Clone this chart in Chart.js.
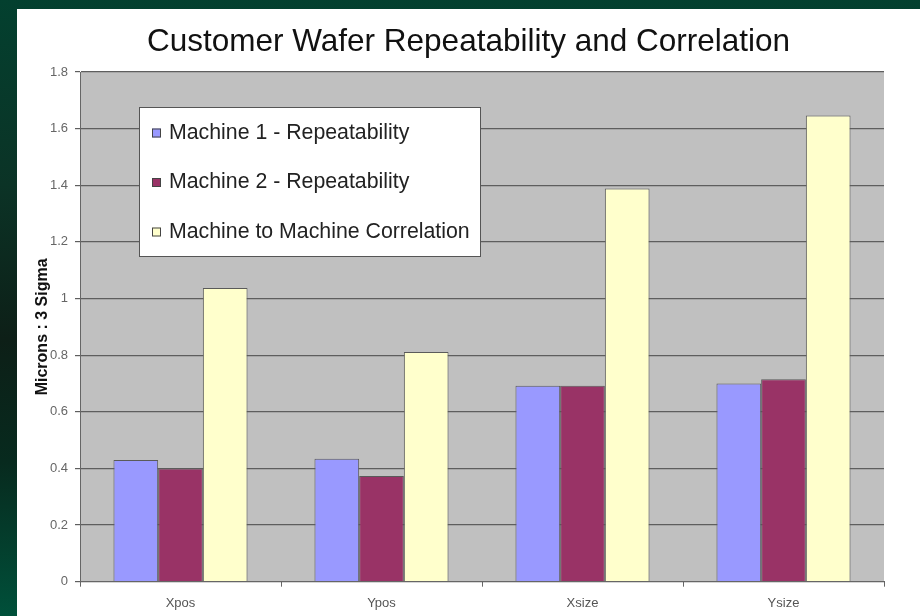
<!DOCTYPE html>
<html>
<head>
<meta charset="utf-8">
<script src="https://cdn.jsdelivr.net/npm/chart.js@4/dist/chart.umd.min.js"></script>
<style>
  html, body { margin: 0; padding: 0; }
  body {
    width: 920px; height: 616px; overflow: hidden; position: relative;
    background: linear-gradient(180deg, #03402f 0%, #0b3326 30%, #0d1f17 55%, #072a1e 75%, #00503a 100%);
  }
  #panel { position: absolute; left: 17px; top: 9px; width: 903px; height: 607px; background: #ffffff; }
  #chart { display: block; }
</style>
</head>
<body>
<div id="panel"><canvas id="chart" width="903" height="607"></canvas></div>
<script>
// Measurement categories and the three series, in microns (3 sigma)
const categories = ['Xpos', 'Ypos', 'Xsize', 'Ysize'];
const machine1Repeatability = [0.43, 0.434, 0.692, 0.70];
const machine2Repeatability = [0.40, 0.373, 0.692, 0.715];
const machineCorrelation = [1.037, 0.811, 1.389, 1.646];
const seriesNames = ['Machine 1 - Repeatability', 'Machine 2 - Repeatability', 'Machine to Machine Correlation'];
const yTickValues = [0, 0.2, 0.4, 0.6, 0.8, 1, 1.2, 1.4, 1.6, 1.8];
const yTickLabels = ['0', '0.2', '0.4', '0.6', '0.8', '1', '1.2', '1.4', '1.6', '1.8'];
const chartTitle = 'Customer Wafer Repeatability and Correlation';

const FONT = 'Arial, "Liberation Sans", sans-serif';

// White panel plus grey plot background, drawn before the grid and bars
const plotBackground = {
  id: 'plotBackground',
  beforeDraw(chart) {
    const { ctx, chartArea: a } = chart;
    ctx.save();
    ctx.fillStyle = '#ffffff';
    ctx.fillRect(0, 0, chart.width, chart.height);
    ctx.fillStyle = '#c0c0c0';
    ctx.fillRect(a.left, a.top, a.right - a.left, a.bottom - a.top);
    ctx.restore();
  }
};

// Title centred over the whole panel
const panelTitle = {
  id: 'panelTitle',
  afterDraw(chart) {
    const { ctx } = chart;
    ctx.save();
    ctx.font = '31.5px ' + FONT;
    ctx.fillStyle = '#111111';
    ctx.textAlign = 'center';
    ctx.textBaseline = 'middle';
    ctx.fillText(chartTitle, chart.width / 2, 33);
    ctx.restore();
  }
};

// Boxed legend sitting inside the plot area, upper left
const boxedLegend = {
  id: 'boxedLegend',
  afterDraw(chart) {
    const { ctx, chartArea: a } = chart;
    const x = a.left + 59, y = a.top + 35, w = 342, h = 150;
    ctx.save();
    ctx.fillStyle = '#ffffff';
    ctx.fillRect(x, y, w, h);
    ctx.strokeStyle = '#555555';
    ctx.lineWidth = 1;
    ctx.strokeRect(x + 0.5, y + 0.5, w - 1, h - 1);
    ctx.font = '21.3px ' + FONT;
    ctx.textBaseline = 'middle';
    chart.data.datasets.forEach((ds, i) => {
      const cy = y + 26 + i * 49.5;
      ctx.fillStyle = ds.backgroundColor;
      ctx.fillRect(x + 13, cy - 4.5, 9, 9);
      ctx.strokeStyle = '#444444';
      ctx.strokeRect(x + 13.5, cy - 4, 8, 8);
      ctx.fillStyle = '#222222';
      ctx.fillText(ds.label, x + 30, cy);
    });
    ctx.restore();
  }
};

const barBorder = '#5a5a5a';

new Chart(document.getElementById('chart'), {
  type: 'bar',
  data: {
    labels: categories,
    datasets: [
      { label: seriesNames[0], data: machine1Repeatability, backgroundColor: '#9999ff', borderColor: barBorder, borderWidth: 1 },
      { label: seriesNames[1], data: machine2Repeatability, backgroundColor: '#993366', borderColor: barBorder, borderWidth: 1 },
      { label: seriesNames[2], data: machineCorrelation, backgroundColor: '#ffffcc', borderColor: barBorder, borderWidth: 1 }
    ]
  },
  options: {
    responsive: false,
    animation: false,
    devicePixelRatio: 1,
    layout: { padding: { left: 0, right: 36, top: 63, bottom: 0 } },
    datasets: { bar: { categoryPercentage: 0.667, barPercentage: 1.0 } },
    plugins: {
      legend: { display: false },
      tooltip: { enabled: false },
      title: { display: false }
    },
    scales: {
      x: {
        grid: { display: true, drawOnChartArea: false, drawTicks: true, tickLength: 5, color: '#666666', offset: true },
        border: { display: true, color: '#666666', width: 1 },
        ticks: { color: '#555555', font: { family: FONT, size: 13 }, padding: 9 },
        afterFit(scale) { scale.height = 34.3; }
      },
      y: {
        min: 0,
        max: 1.8,
        afterBuildTicks(scale) { scale.ticks = yTickValues.map(v => ({ value: v })); },
        grid: { color: '#5e5e5e', lineWidth: 1.2, tickLength: 5, drawTicks: true },
        border: { display: true, color: '#666666', width: 1 },
        ticks: {
          color: '#666666',
          font: { family: FONT, size: 13 },
          padding: 7,
          callback(value, index) { return yTickLabels[index]; }
        },
        title: {
          display: true,
          text: 'Microns : 3 Sigma',
          color: '#111111',
          font: { family: FONT, size: 16, weight: 'bold' },
          padding: { top: 15.5, bottom: 0 }
        },
        afterFit(scale) { scale.width = 63; }
      }
    }
  },
  plugins: [plotBackground, panelTitle, boxedLegend]
});
</script>
</body>
</html>
